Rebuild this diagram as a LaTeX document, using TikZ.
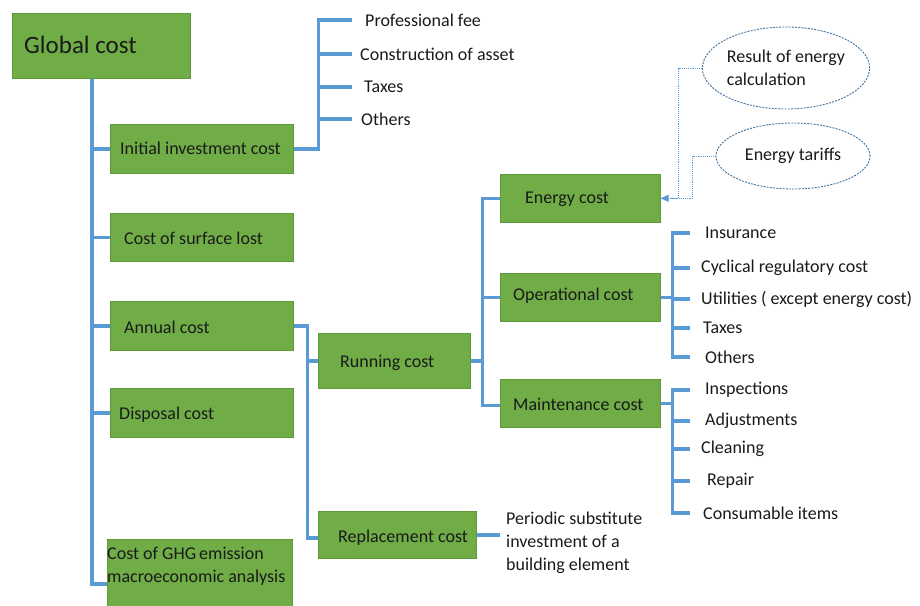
\documentclass[tikz,border=0pt]{standalone}
\usepackage{fontspec}
\setmainfont{Carlito}
\usetikzlibrary{arrows.meta,calc,shapes.geometric}
\definecolor{boxfill}{HTML}{70AD47}
\definecolor{boxedge}{HTML}{5E9A3B}
\definecolor{treeblue}{HTML}{5B9BD5}
\definecolor{ovaledge}{HTML}{41719C}
\definecolor{txt}{HTML}{1A1A1A}
\begin{document}
\begin{tikzpicture}[x=1pt,y=-1pt,
  box/.style={draw=boxedge, fill=boxfill, line width=0.6pt, inner sep=0pt, anchor=north west},
  lbl/.style={font=\fontsize{18}{22.8}\selectfont, text=txt, inner sep=0pt, anchor=west, align=left},
  leaf/.style={font=\fontsize{18}{22.8}\selectfont, text=txt, inner sep=0pt, anchor=west},
  tree/.style={draw=treeblue, line width=3.5pt},
  feed/.style={draw=treeblue, line width=0.9pt, densely dotted},
  oval/.style={ellipse, draw=ovaledge, dash pattern=on 2pt off 1.2pt, line width=0.9pt, inner sep=0pt,
    font=\fontsize{18}{22.8}\selectfont, text=txt, align=left}]
\useasboundingbox (0,0) rectangle (920,605);

% ---- boxes ----
\node[box, minimum width=178, minimum height=65] (global) at (12,13) {};
\node[lbl, font=\fontsize{25}{30}\selectfont] (global-t) at (24,45) {Global cost};

\node[box, minimum width=183, minimum height=49] (init) at (110,124) {};
\node[lbl] (init-t) at (120,148) {Initial investment cost};
\node[box, minimum width=183, minimum height=48] (surf) at (110,213) {};
\node[lbl] (surf-t) at (124,238) {Cost of surface lost};
\node[box, minimum width=183, minimum height=49] (annual) at (110,301) {};
\node[lbl] (annual-t) at (124,327) {Annual cost};
\node[box, minimum width=183, minimum height=49] (disp) at (110,388) {};
\node[lbl] (disp-t) at (119,415) {Disposal cost};
\node[box, minimum width=185, minimum height=68] (ghg) at (107,539) {};
\node[lbl, anchor=north west] (ghg-t) at (107,547) {Cost of GHG\,emission\\macroeconomic analysis};

\node[box, minimum width=152, minimum height=55] (run) at (318,333) {};
\node[lbl] (run-t) at (340,363) {Running cost};
\node[box, minimum width=158, minimum height=47] (repl) at (318,511) {};
\node[lbl] (repl-t) at (338,538) {Replacement cost};

\node[box, minimum width=160, minimum height=48] (energy) at (500,174) {};
\node[lbl] (energy-t) at (525,199) {Energy cost};
\node[box, minimum width=160, minimum height=48] (oper) at (500,273) {};
\node[lbl] (oper-t) at (513,296) {Operational cost};
\node[box, minimum width=160, minimum height=48] (maint) at (500,379) {};
\node[lbl] (maint-t) at (513,404) {Maintenance cost};

% ---- ovals feeding the energy cost ----
\node[oval, minimum width=167, minimum height=82] (res) at (786,68) {Result of energy\\calculation};
\node[oval, minimum width=154, minimum height=66] (tar) at (793,156) {Energy tariffs};
\draw[feed] (res.west) -| ([xshift=18pt]energy.east) -- (energy.east);
\draw[feed, -{Triangle[length=8pt,width=7pt]}] (tar.west) -| ([xshift=32pt]energy.east) -- (energy.east);

% ---- leaf texts ----
\node[leaf] (pf) at (365,20) {Professional fee};
\node[leaf] (ca) at (360,54) {Construction of asset};
\node[leaf] (tx1) at (364,87) {Taxes};
\node[leaf] (ot1) at (361,119) {Others};

\node[leaf] (ins) at (705,233) {Insurance};
\node[leaf] (cyc) at (701,268) {Cyclical regulatory cost};
\node[leaf] (uti) at (701,299) {Utilities ( except energy cost)};
\node[leaf] (tx2) at (703,328) {Taxes};
\node[leaf] (ot2) at (705,357) {Others};

\node[leaf] (insp) at (705,390) {Inspections};
\node[leaf] (adj) at (705,421) {Adjustments};
\node[leaf] (cln) at (701,449) {Cleaning};
\node[leaf] (rep) at (707,481) {Repair};
\node[leaf] (cons) at (703,513) {Consumable items};

\node[lbl, anchor=north west] (periodic) at (506,512) {Periodic substitute\\investment of a\\building element};

% ---- tree connectors ----
\coordinate (trunk) at ([xshift=80pt]global.south west);
\draw[tree] (trunk) |- ([yshift=-10.5pt]ghg.west);
\foreach \n in {init,surf,annual,disp}
  \draw[tree] (trunk |- \n.west) -- (\n.west);

% initial investment breakdown
\coordinate (ib) at ([xshift=25pt]init.east);
\coordinate (itick) at (352,0);
\draw[tree] (init.east) -- (ib) |- (pf.west -| itick);
\foreach \n in {ca,tx1,ot1}
  \draw[tree] (ib |- \n.west) -- (\n.west -| itick);

% annual cost split
\coordinate (ab) at ([xshift=14pt]annual.east);
\draw[tree] (annual.east) -- (ab) |- ([yshift=-3pt]repl.west);
\draw[tree] (ab |- run.west) -- (run.west);

% running cost split
\coordinate (rb) at ([xshift=12pt]run.east);
\draw[tree] (energy.west) -| (rb) |- ([yshift=-2pt]maint.west);
\draw[tree] (run.east) -- (rb);
\draw[tree] (rb |- oper.west) -- (oper.west);

% operational and maintenance breakdowns
\coordinate (ob) at ([xshift=12pt]oper.east);
\coordinate (mb) at ([xshift=12pt]maint.east);
\coordinate (otick) at (690,0);
\draw[tree] (oper.east) -- (ob);
\draw[tree] (ins.west -| otick) -| (ob) |- (ot2.west -| otick);
\foreach \n in {cyc,uti,tx2}
  \draw[tree] (ob |- \n.west) -- (\n.west -| otick);
\draw[tree] (maint.east) -- (mb);
\draw[tree] (insp.west -| otick) -| (mb) |- (cons.west -| otick);
\foreach \n in {adj,cln,rep}
  \draw[tree] (mb |- \n.west) -- (\n.west -| otick);

% replacement note
\draw[tree] (repl.east) -- ([xshift=-6pt]repl.east -| periodic.west);
\end{tikzpicture}
\end{document}
